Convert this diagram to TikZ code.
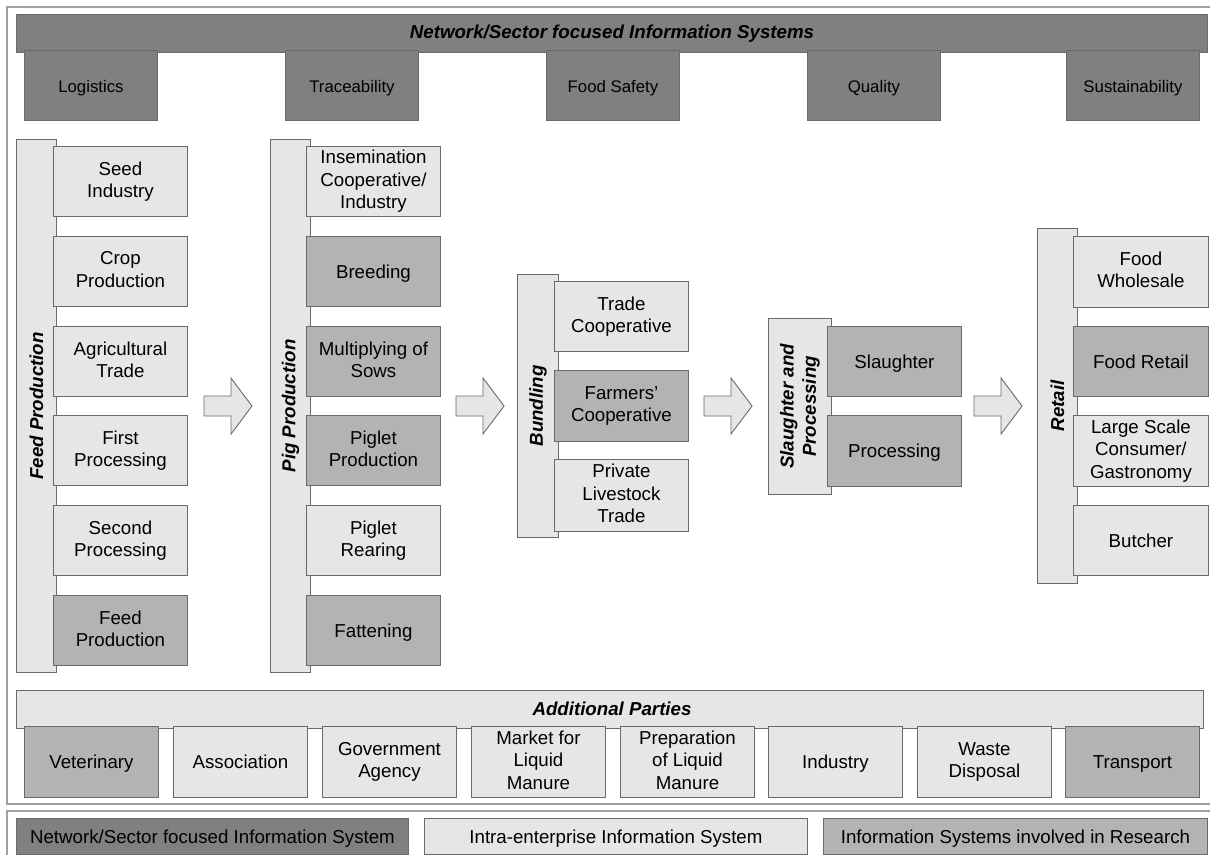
\documentclass[tikz,border=0pt]{standalone}
\usepackage{fontspec}
\setmainfont{Liberation Sans}
\definecolor{dk}{HTML}{808080}
\definecolor{md}{HTML}{B3B3B3}
\definecolor{lt}{HTML}{E6E6E6}
\definecolor{edgec}{HTML}{6A6A6A}
\definecolor{framec}{HTML}{A0A0A0}
\newcommand\mytopstrut{\rule{0pt}{18pt}}
\newcommand\mybotstrut{\rule[-4pt]{0pt}{4pt}}
\tikzset{
 box/.style={draw=edgec, line width=0.9pt, anchor=north west, inner sep=0pt, align=center, minimum width=134pt, minimum height=70pt, font=\fontsize{18.7}{22.3}\selectfont, execute at begin node=\mytopstrut, execute at end node=\mybotstrut},
 dkbox/.style={box, fill=dk},
 mdbox/.style={box, fill=md},
 ltbox/.style={box, fill=lt},
 topbox/.style={dkbox, minimum width=133pt, font=\fontsize{16.8}{20}\selectfont},
 bar/.style={draw=edgec, fill=lt, line width=0.9pt, anchor=north west, inner sep=0pt},
 banner/.style={bar, minimum height=38pt},
 vlabel/.style={rotate=90, font=\fontsize{18.7}{22.3}\selectfont\bfseries\itshape, align=center, inner sep=0pt},
 htitle/.style={font=\fontsize{18.7}{22.3}\selectfont\bfseries\itshape, inner sep=0pt},
 blockarrow/.style={draw=edgec, fill=lt, line width=0.9pt},
 framel/.style={draw=framec, line width=1.5pt},
}
\begin{document}
\begin{tikzpicture}[x=1pt,y=-1pt]
\useasboundingbox (0,0) rectangle (1210,854);
\clip (0,0) rectangle (1210,854);
\fill[white] (0,0) rectangle (1210,854);
% frames
\draw[framel] (7,7) rectangle (1225,804);
\draw[framel] (7,811) rectangle (1225,880);
% top banner
\node[banner, fill=dk, minimum width=1191pt] (topban) at (16,14) {};
\node[htitle] (toptitle) at (612,34) {Network/Sector focused Information Systems};
\node[topbox] (logi) at (24,50) {Logistics};
\node[topbox] (trace) at (285,50) {Traceability};
\node[topbox] (safety) at (546,50) {Food Safety};
\node[topbox] (quality) at (807,50) {Quality};
\node[topbox] (sustain) at (1066,50) {Sustainability};
% feed production column
\node[bar, minimum width=40pt, minimum height=533pt] (feedbar) at (16,139) {};
\node[vlabel] (feedlbl) at (feedbar.center) {Feed Production};
\node[ltbox] (seed) at (53,146) {Seed\\Industry};
\node[ltbox] (crop) at (53,236) {Crop\\Production};
\node[ltbox] (agri) at (53,326) {Agricultural\\Trade};
\node[ltbox] (first) at (53,415) {First\\Processing};
\node[ltbox] (second) at (53,505) {Second\\Processing};
\node[mdbox] (feedp) at (53,595) {Feed\\Production};
% pig production column
\node[bar, minimum width=40pt, minimum height=533pt] (pigbar) at (270,139) {};
\node[vlabel] (piglbl) at (pigbar.center) {Pig Production};
\node[ltbox] (insem) at (306,146) {Insemination\\Cooperative/\\Industry};
\node[mdbox] (breed) at (306,236) {Breeding};
\node[mdbox] (multi) at (306,326) {Multiplying of\\Sows};
\node[mdbox] (pigletp) at (306,415) {Piglet\\Production};
\node[ltbox] (pigletr) at (306,505) {Piglet\\Rearing};
\node[mdbox] (fatten) at (306,595) {Fattening};
% bundling column
\node[bar, minimum width=41pt, minimum height=263pt] (bundbar) at (517,274) {};
\node[vlabel] (bundlbl) at (bundbar.center) {Bundling};
\node[ltbox] (tradec) at (554,281) {Trade\\Cooperative};
\node[mdbox, minimum height=71pt] (farmc) at (554,370) {Farmers'\\Cooperative};
\node[ltbox, minimum height=72pt] (private) at (554,459) {Private\\Livestock\\Trade};
% slaughter column
\node[bar, minimum width=63pt, minimum height=176pt] (slbar) at (768,318) {};
\node[vlabel] (sllbl) at (slbar.center) {Slaughter and\\Processing};
\node[mdbox] (slaughter) at (827,326) {Slaughter};
\node[mdbox, minimum height=71pt] (process) at (827,415) {Processing};
% retail column
\node[bar, minimum width=40pt, minimum height=355pt] (retbar) at (1037,228) {};
\node[vlabel] (retlbl) at (retbar.center) {Retail};
\node[ltbox, minimum width=135pt, minimum height=71pt] (wholesale) at (1073,236) {Food\\Wholesale};
\node[mdbox, minimum width=135pt] (foodret) at (1073,326) {Food Retail};
\node[ltbox, minimum width=135pt, minimum height=71pt] (large) at (1073,415) {Large Scale\\Consumer/\\Gastronomy};
\node[ltbox, minimum width=135pt] (butcher) at (1073,505) {Butcher};
% block arrows
\foreach \x in {204,456,704,974} {
  \draw[blockarrow] (\x,396) -- (\x+27,396) -- (\x+27,378) -- (\x+48,406) -- (\x+27,434) -- (\x+27,416) -- (\x,416) -- cycle;
}
% additional parties
\node[banner, minimum width=1187pt] (addban) at (16,690) {};
\node[htitle] (addtitle) at (612,709) {Additional Parties};
\node[mdbox, minimum height=71pt] (vet) at (24,726) {Veterinary};
\node[ltbox, minimum height=71pt] (assoc) at (173,726) {Association};
\node[ltbox, minimum height=71pt] (gov) at (322,726) {Government\\Agency};
\node[ltbox, minimum height=71pt] (market) at (471,726) {Market for\\Liquid\\Manure};
\node[ltbox, minimum height=71pt] (prep) at (620,726) {Preparation\\of Liquid\\Manure};
\node[ltbox, minimum height=71pt] (indus) at (768,726) {Industry};
\node[ltbox, minimum height=71pt] (waste) at (917,726) {Waste\\Disposal};
\node[mdbox, minimum height=71pt] (transport) at (1065,726) {Transport};
% legend
\node[dkbox, minimum width=392pt, minimum height=36pt] (legdk) at (16,818) {Network/Sector focused Information System};
\node[ltbox, minimum width=383pt, minimum height=36pt] (leglt) at (424,818) {Intra-enterprise Information System};
\node[mdbox, minimum width=384pt, minimum height=36pt] (legmd) at (823,818) {Information Systems involved in Research};
\end{tikzpicture}
\end{document}
